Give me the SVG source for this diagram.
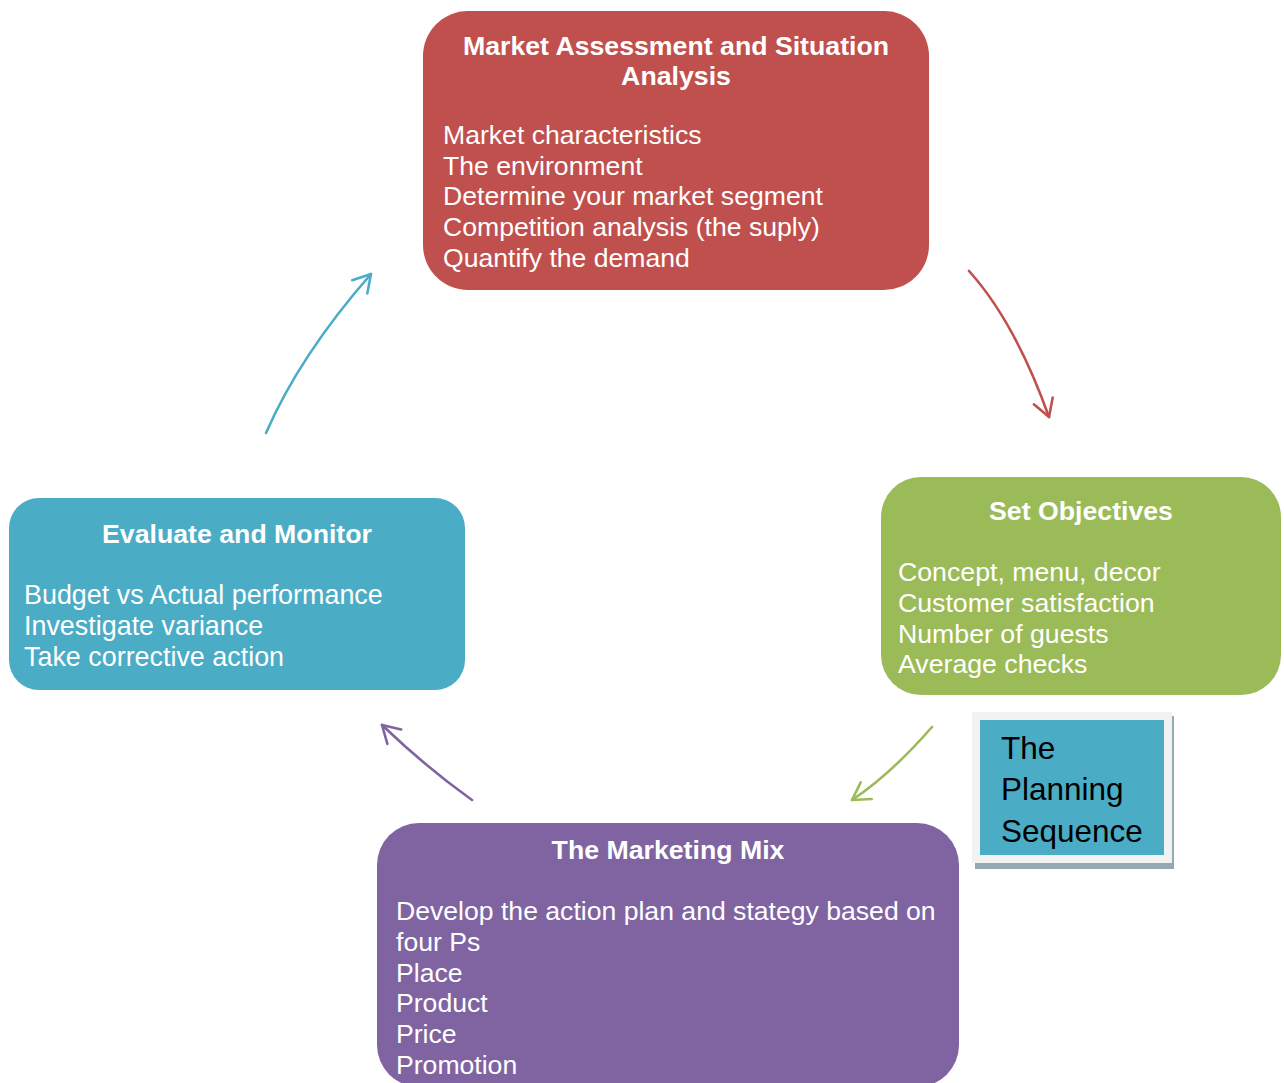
<svg xmlns="http://www.w3.org/2000/svg" width="1284" height="1083" viewBox="0 0 1284 1083">
  <style>
    .title { font-family: "Liberation Sans", Arial, sans-serif; font-size: 26.7px; font-weight: bold; fill: #FFFFFF; text-anchor: middle; }
    .body { font-family: "Liberation Sans", Arial, sans-serif; font-size: 26.6px; fill: #FFFFFF; }
    .legend { font-family: "Liberation Sans", Arial, sans-serif; font-size: 31.5px; fill: #000000; }
    .conn { fill: none; stroke-width: 2.6; stroke-linecap: round; }
  </style>
  <defs>
    <marker id="arrRed" markerUnits="userSpaceOnUse" markerWidth="40" markerHeight="40" refX="0" refY="0" viewBox="-20 -20 40 40" orient="auto" overflow="visible">
      <path d="M-17,-10 L0,0 L-17,10" fill="none" stroke="#C0504D" stroke-width="2.6" stroke-linecap="round" stroke-linejoin="round"/>
    </marker>
    <marker id="arrGreen" markerUnits="userSpaceOnUse" markerWidth="40" markerHeight="40" refX="0" refY="0" viewBox="-20 -20 40 40" orient="auto" overflow="visible">
      <path d="M-17,-10 L0,0 L-17,10" fill="none" stroke="#9BBB59" stroke-width="2.6" stroke-linecap="round" stroke-linejoin="round"/>
    </marker>
    <marker id="arrPurple" markerUnits="userSpaceOnUse" markerWidth="40" markerHeight="40" refX="0" refY="0" viewBox="-20 -20 40 40" orient="auto" overflow="visible">
      <path d="M-17,-10 L0,0 L-17,10" fill="none" stroke="#8064A2" stroke-width="2.6" stroke-linecap="round" stroke-linejoin="round"/>
    </marker>
    <marker id="arrBlue" markerUnits="userSpaceOnUse" markerWidth="40" markerHeight="40" refX="0" refY="0" viewBox="-20 -20 40 40" orient="auto" overflow="visible">
      <path d="M-17,-10 L0,0 L-17,10" fill="none" stroke="#4BACC6" stroke-width="2.6" stroke-linecap="round" stroke-linejoin="round"/>
    </marker>
  </defs>
  <rect width="1284" height="1083" fill="#FFFFFF"/>

  <g id="connectors">
    <path class="conn" stroke="#C0504D" d="M969,271 Q1015,322 1049,417" marker-end="url(#arrRed)"/>
    <path class="conn" stroke="#9BBB59" d="M932,727 Q890,775 852,800" marker-end="url(#arrGreen)"/>
    <path class="conn" stroke="#8064A2" d="M472,800 Q427,768 382,725" marker-end="url(#arrPurple)"/>
    <path class="conn" stroke="#4BACC6" d="M266,433 Q300,355 371,274" marker-end="url(#arrBlue)"/>
  </g>

  <g id="node-market">
    <rect x="423" y="11" width="506" height="279" rx="45" ry="45" fill="#C0504D"/>
    <text class="title" x="676" y="55">Market Assessment and Situation</text>
    <text class="title" x="676" y="85">Analysis</text>
    <text class="body" x="443" y="144">Market characteristics</text>
    <text class="body" x="443" y="174.5">The environment</text>
    <text class="body" x="443" y="205">Determine your market segment</text>
    <text class="body" x="443" y="236">Competition analysis (the suply)</text>
    <text class="body" x="443" y="266.5">Quantify the demand</text>
  </g>

  <g id="node-objectives">
    <rect x="881" y="477" width="400" height="218" rx="40" ry="40" fill="#9BBB59"/>
    <text class="title" x="1081" y="520">Set Objectives</text>
    <text class="body" x="898" y="581" style="font-size:26.7px">Concept, menu, decor</text>
    <text class="body" x="898" y="611.5" style="font-size:26.7px">Customer satisfaction</text>
    <text class="body" x="898" y="642.5" style="font-size:26.7px">Number of guests</text>
    <text class="body" x="898" y="673" style="font-size:26.7px">Average checks</text>
  </g>

  <g id="node-evaluate">
    <rect x="9" y="498" width="456" height="192" rx="30" ry="30" fill="#4BACC6"/>
    <text class="title" x="237" y="543">Evaluate and Monitor</text>
    <text class="body" x="24" y="604" style="font-size:26.9px">Budget vs Actual performance</text>
    <text class="body" x="24" y="635" style="font-size:26.9px">Investigate variance</text>
    <text class="body" x="24" y="666" style="font-size:26.9px">Take corrective action</text>
  </g>

  <g id="node-mix">
    <rect x="377" y="823" width="582" height="264" rx="42" ry="42" fill="#8064A2"/>
    <text class="title" x="668" y="858.5">The Marketing Mix</text>
    <text class="body" x="396" y="920">Develop the action plan and stategy based on</text>
    <text class="body" x="396" y="950.5">four Ps</text>
    <text class="body" x="396" y="981.5">Place</text>
    <text class="body" x="396" y="1012">Product</text>
    <text class="body" x="396" y="1043">Price</text>
    <text class="body" x="396" y="1073.5">Promotion</text>
  </g>

  <g id="legend">
    <rect x="975" y="716" width="199" height="153" fill="#93AAB0"/>
    <rect x="972" y="712" width="200" height="151" fill="#F2F2F2"/>
    <rect x="980" y="720" width="184" height="135" fill="#4BACC6"/>
    <text class="legend" x="1001" y="759">The</text>
    <text class="legend" x="1001" y="800">Planning</text>
    <text class="legend" x="1001" y="842">Sequence</text>
  </g>
</svg>
